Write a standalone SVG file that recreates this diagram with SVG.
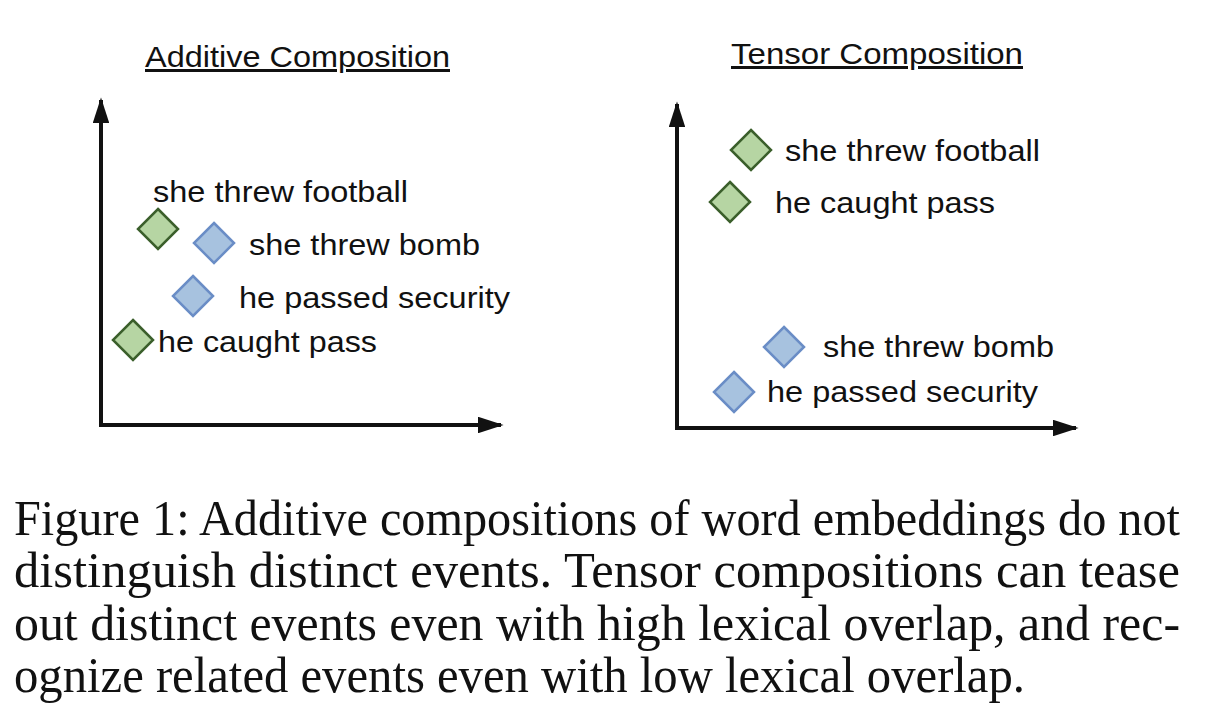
<svg xmlns="http://www.w3.org/2000/svg" width="1208" height="726" viewBox="0 0 1208 726">
<defs>
<style>
.lbl{font-family:"Liberation Sans",Arial,sans-serif;font-size:30px;fill:#111}
.ttl{font-family:"Liberation Sans",Arial,sans-serif;font-size:30px;fill:#111;text-decoration:underline}
.cap{font-family:"Liberation Serif","Times New Roman",serif;font-size:44px;fill:#111}
.g{fill:#b6d5a3;stroke:#3b5f2b;stroke-width:2.5}
.b{fill:#a7c2df;stroke:#6a8dc6;stroke-width:2.5}
.ax{fill:none;stroke:#111;stroke-width:4}
</style>
<marker id="ah" viewBox="0 0 10 10" refX="9" refY="5" markerWidth="6.5" markerHeight="4.2" orient="auto" markerUnits="strokeWidth" preserveAspectRatio="none">
<path d="M0,0 L10,5 L0,10 z" fill="#111"/>
</marker>
<path id="dm" d="M0,-20 L20,0 L0,20 L-20,0 z"/>
</defs>
<rect width="1208" height="726" fill="#fff"/>

<text class="ttl" x="145" y="67" textLength="305" lengthAdjust="spacingAndGlyphs">Additive Composition</text>
<text class="ttl" x="731" y="64" textLength="292" lengthAdjust="spacingAndGlyphs">Tensor Composition</text>

<g id="connectors">
<path class="ax" d="M101,425 L101,100" marker-end="url(#ah)"/>
<path class="ax" d="M99,425 L501,425" marker-end="url(#ah)"/>
<path class="ax" d="M677,428 L677,104" marker-end="url(#ah)"/>
<path class="ax" d="M675,428 L1076,428" marker-end="url(#ah)"/>
</g>

<g id="add-she-threw-football">
<use href="#dm" class="g" x="158" y="229"/>
<text class="lbl" x="153" y="202" textLength="255" lengthAdjust="spacingAndGlyphs">she threw football</text>
</g>
<g id="add-she-threw-bomb">
<use href="#dm" class="b" x="214" y="243"/>
<text class="lbl" x="249" y="255" textLength="231" lengthAdjust="spacingAndGlyphs">she threw bomb</text>
</g>
<g id="add-he-passed-security">
<use href="#dm" class="b" x="193" y="296"/>
<text class="lbl" x="239" y="308" textLength="271" lengthAdjust="spacingAndGlyphs">he passed security</text>
</g>
<g id="add-he-caught-pass">
<use href="#dm" class="g" x="133" y="340"/>
<text class="lbl" x="158" y="352" textLength="219" lengthAdjust="spacingAndGlyphs">he caught pass</text>
</g>

<g id="ten-she-threw-football">
<use href="#dm" class="g" x="751" y="150"/>
<text class="lbl" x="785" y="161" textLength="255" lengthAdjust="spacingAndGlyphs">she threw football</text>
</g>
<g id="ten-he-caught-pass">
<use href="#dm" class="g" x="730" y="202"/>
<text class="lbl" x="775" y="213" textLength="220" lengthAdjust="spacingAndGlyphs">he caught pass</text>
</g>
<g id="ten-she-threw-bomb">
<use href="#dm" class="b" x="784" y="347"/>
<text class="lbl" x="823" y="357" textLength="231" lengthAdjust="spacingAndGlyphs">she threw bomb</text>
</g>
<g id="ten-he-passed-security">
<use href="#dm" class="b" x="734" y="392"/>
<text class="lbl" x="767" y="402" textLength="271" lengthAdjust="spacingAndGlyphs">he passed security</text>
</g>

<g id="caption" transform="scale(1,1.16)">
<text class="cap" x="14" y="461.2" textLength="1166" lengthAdjust="spacingAndGlyphs">Figure 1:  Additive compositions of word embeddings do not</text>
<text class="cap" x="14" y="506" textLength="1166" lengthAdjust="spacingAndGlyphs">distinguish  distinct  events.  Tensor  compositions  can  tease</text>
<text class="cap" x="14" y="551.7" textLength="1166" lengthAdjust="spacingAndGlyphs">out distinct events even with high lexical overlap, and rec-</text>
<text class="cap" x="14" y="596.6" textLength="1011" lengthAdjust="spacingAndGlyphs">ognize related events even with low lexical overlap.</text>
</g>
</svg>
